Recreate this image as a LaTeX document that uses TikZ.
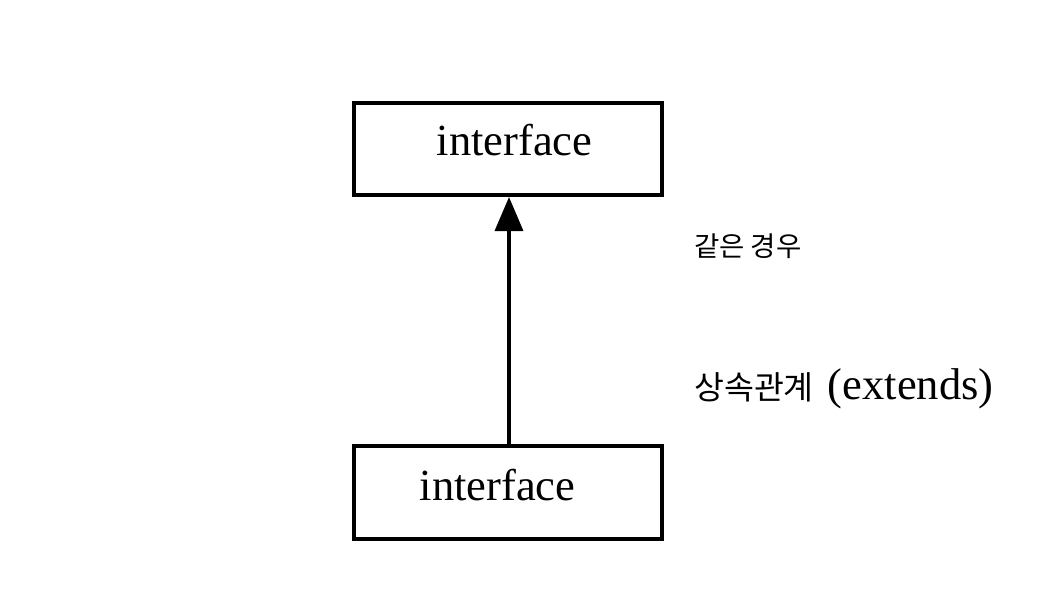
\documentclass[tikz,border=0pt]{standalone}
\usepackage{fontspec}
\setmainfont{Liberation Serif}
\newfontfamily\kr{Noto Sans CJK KR}
\usetikzlibrary{arrows.meta}
\begin{document}
\begin{tikzpicture}[x=1pt,y=-1pt,
  ifbox/.style={draw, line width=4pt, minimum width=308pt, inner sep=0pt},
  iftext/.style={anchor=base, inner sep=0pt, font=\fontsize{44.5}{50}\selectfont},
  rel/.style={-{Triangle[width=28pt,length=34pt]}, line width=3.5pt}]
\useasboundingbox (0,0) rectangle (1056,591);
\node[ifbox, minimum height=92pt] (top) at (508,149) {};
\node[ifbox, minimum height=93pt] (bot) at (508,492.5) {};
\node[iftext] (toptext) at (514.5,155) {interface};
\node[iftext] (bottext) at (497.5,500) {interface};
\draw[rel] (bot.north -| 509,0) -- (top.south -| 509,0);
\node[anchor=base west, inner sep=0pt, font=\kr\fontsize{27.5}{32}\selectfont] (case) at (694,256) {같은 경우};
\node[anchor=base west, inner sep=0pt] (ext) at (694,399) {{\kr\fontsize{32.5}{40}\selectfont 상속관계}\hspace{14pt}{\fontsize{44.5}{50}\selectfont (extends)}};
\end{tikzpicture}
\end{document}
